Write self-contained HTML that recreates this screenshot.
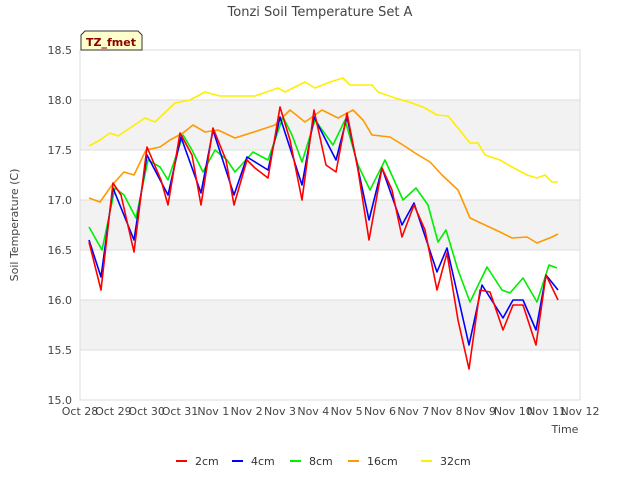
<!DOCTYPE html>
<html><head><meta charset="utf-8"><style>
body{margin:0;background:#fff;}
svg{display:block;font-family:"DejaVu Sans","Liberation Sans",sans-serif;}
</style></head><body>
<svg id="chart" width="640" height="480">
<text x="320" y="16" text-anchor="middle" font-size="13" fill="#444">Tonzi Soil Temperature Set A</text>
<g id="bands"></g>
<rect x="80" y="50" width="500" height="350" fill="none" stroke="#ddd"/>
<g id="yaxis"></g><g id="xaxis"></g><g id="series"></g>
<text transform="translate(18,225) rotate(-90)" text-anchor="middle" font-size="11" fill="#444">Soil Temperature (C)</text>
<text x="565" y="433" text-anchor="middle" font-size="11" fill="#444">Time</text>
<g>
<path d="M81,50 L81,35 L85,31 L138,31 L142,35 L142,50 Z" fill="#ffffcc" stroke="#333"/>
<text x="111" y="46" text-anchor="middle" font-size="11" font-weight="bold" fill="#8b0000">TZ_fmet</text>
</g>
<g id="legend"></g>
</svg>
<script>
const xTicks=["Oct 28","Oct 29","Oct 30","Oct 31","Nov 1","Nov 2","Nov 3","Nov 4","Nov 5","Nov 6","Nov 7","Nov 8","Nov 9","Nov 10","Nov 11","Nov 12"];
const yTicks=[15.0,15.5,16.0,16.5,17.0,17.5,18.0,18.5];
const seriesNames=["2cm","4cm","8cm","16cm","32cm"];
const seriesColors=["#ff0000","#0000ff","#00ee00","#ff9900","#ffee00"];
const days2=[0.27,0.63,0.99,1.23,1.62,2.01,2.43,2.64,3.0,3.36,3.63,3.99,4.38,4.62,5.01,5.25,5.64,6.0,6.3,6.66,7.02,7.38,7.68,8.01,8.34,8.67,9.06,9.36,9.66,10.02,10.35,10.71,11.01,11.34,11.67,12.0,12.3,12.69,12.99,13.29,13.68,13.98,14.34];
const temp2=[16.58,16.1,17.17,17.05,16.48,17.53,17.2,16.95,17.67,17.45,16.95,17.72,17.4,16.95,17.4,17.32,17.22,17.93,17.6,17.0,17.9,17.35,17.28,17.87,17.3,16.6,17.32,17.1,16.63,16.95,16.7,16.1,16.47,15.8,15.31,16.1,16.08,15.7,15.95,15.95,15.55,16.25,16.0];
const days4=[0.27,0.63,0.99,1.62,2.01,2.64,3.03,3.63,3.99,4.62,5.01,5.64,6.0,6.66,7.02,7.68,8.01,8.67,9.06,9.66,10.02,10.71,11.01,11.67,12.06,12.69,12.99,13.29,13.68,13.98,14.34];
const temp4=[16.6,16.23,17.12,16.6,17.45,17.05,17.63,17.07,17.7,17.05,17.43,17.3,17.83,17.15,17.83,17.4,17.83,16.8,17.32,16.75,16.97,16.28,16.52,15.55,16.15,15.82,16.0,16.0,15.7,16.25,16.1];
const days8=[0.27,0.66,1.05,1.32,1.68,2.04,2.4,2.64,3.09,3.36,3.69,4.05,4.41,4.65,5.19,5.64,6.09,6.36,6.66,7.05,7.59,7.95,8.34,8.7,9.15,9.69,10.08,10.44,10.74,10.98,11.34,11.7,12.21,12.66,12.9,13.29,13.71,14.07,14.31];
const temp8=[16.73,16.5,17.12,17.05,16.82,17.4,17.33,17.2,17.65,17.5,17.28,17.5,17.4,17.28,17.48,17.4,17.83,17.65,17.38,17.8,17.55,17.8,17.35,17.1,17.4,17.0,17.12,16.95,16.58,16.7,16.3,15.98,16.33,16.1,16.07,16.22,15.98,16.35,16.32];
const days16=[0.27,0.6,0.96,1.32,1.62,1.98,2.4,2.7,3.09,3.39,3.75,4.14,4.65,5.4,5.85,6.3,6.75,7.26,7.74,8.19,8.49,8.76,9.3,9.69,10.05,10.5,10.86,11.34,11.7,12.15,12.6,12.96,13.41,13.71,14.16,14.34];
const temp16=[17.02,16.98,17.15,17.28,17.25,17.5,17.53,17.6,17.67,17.75,17.68,17.7,17.62,17.7,17.75,17.9,17.78,17.9,17.82,17.9,17.8,17.65,17.63,17.55,17.47,17.38,17.25,17.1,16.82,16.75,16.68,16.62,16.63,16.57,16.63,16.66];
const days32=[0.27,0.6,0.9,1.14,1.5,1.95,2.25,2.85,3.3,3.75,4.2,4.8,5.25,5.94,6.15,6.75,7.05,7.5,7.89,8.1,8.76,8.94,9.45,9.96,10.35,10.71,11.04,11.34,11.7,11.94,12.15,12.6,12.96,13.41,13.71,13.95,14.16,14.34];
const temp32=[17.54,17.6,17.67,17.64,17.72,17.82,17.78,17.97,18.0,18.08,18.04,18.04,18.04,18.12,18.08,18.18,18.12,18.18,18.22,18.15,18.15,18.08,18.02,17.97,17.92,17.85,17.84,17.72,17.57,17.57,17.45,17.4,17.33,17.25,17.22,17.25,17.18,17.18];
const allDays=[days2,days4,days8,days16,days32];
const allTemps=[temp2,temp4,temp8,temp16,temp32];
const NS="http://www.w3.org/2000/svg";
const X0=80,X1=580,Y0=400,Y1=50;
function xs(d){return X0+d*(X1-X0)/15;}
function ys(v){return Y0-(v-15)*(Y0-Y1)/3.5;}
function mk(tag,attrs,parent){const e=document.createElementNS(NS,tag);for(const k in attrs)e.setAttribute(k,attrs[k]);parent.appendChild(e);return e;}
const bands=document.getElementById('bands');
[[15.5,16.0],[16.5,17.0],[17.5,18.0]].forEach(b=>{
 const r=mk('rect',{x:X0,y:ys(b[1]),width:X1-X0,height:ys(b[0])-ys(b[1]),fill:'#f2f2f2'},bands);
 
 
});
const ya=document.getElementById('yaxis');
yTicks.forEach(v=>{
 const l=mk('line',{x1:X0,x2:X1,y1:ys(v),y2:ys(v),stroke:'#ddd'},ya);
 
 
 const t=mk('text',{x:X0-8,y:ys(v)+4,'text-anchor':'end','font-size':'11',fill:'#444'},ya);
 t.textContent=v.toFixed(1);
 
 
});
const xa=document.getElementById('xaxis');
xTicks.forEach((s,i)=>{
 const t=mk('text',{x:xs(i),y:415,'text-anchor':'middle','font-size':'11',fill:'#444'},xa);
 t.textContent=s;
 
 
});
const sg=document.getElementById('series');
[4,3,2,1,0].forEach(i=>{
 const pts=allDays[i].map((d,j)=>xs(d).toFixed(1)+','+ys(allTemps[i][j]).toFixed(1)).join(' ');
 const p=mk('polyline',{points:pts,fill:'none',stroke:seriesColors[i],'stroke-width':'1.6','stroke-linejoin':'round'},sg);
 
 
});
const lg=document.getElementById('legend');
const lx=[176,232,290,348,421];
seriesNames.forEach((n,i)=>{
 const g=mk('g',{},lg);
 
 
 mk('rect',{x:lx[i],y:460,width:11,height:2,fill:seriesColors[i]},g);
 const t=mk('text',{x:lx[i]+19,y:465,'font-size':'11',fill:'#333'},g);
 t.textContent=n;
});
</script>
</body></html>
